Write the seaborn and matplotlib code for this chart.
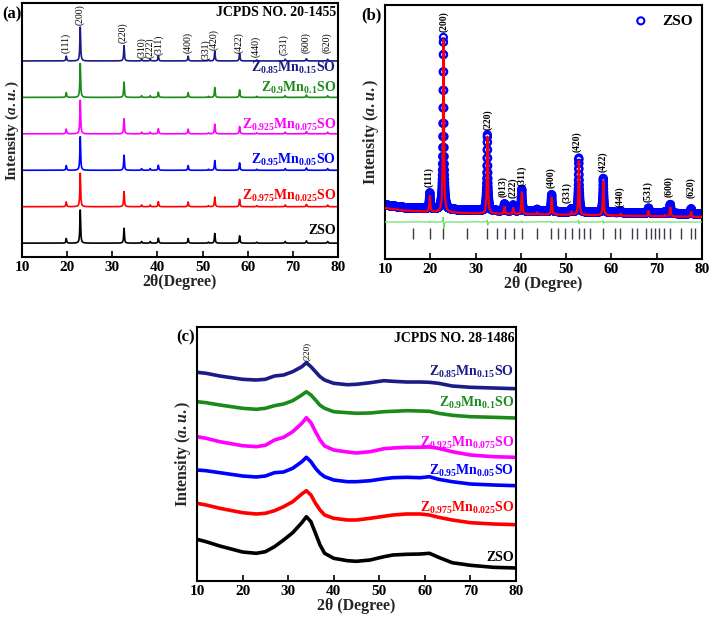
import numpy as np
import matplotlib
matplotlib.use("Agg")
import matplotlib.pyplot as plt
import seaborn as sns

# ---------------- data ----------------
# (a) XRD of the Mn-doped series, peak positions / relative intensities
a_names = [r"$\mathrm{Z_{0.85}Mn_{0.15}SO}$", r"$\mathrm{Z_{0.9}Mn_{0.1}SO}$",
           r"$\mathrm{Z_{0.925}Mn_{0.075}SO}$", r"$\mathrm{Z_{0.95}Mn_{0.05}SO}$",
           r"$\mathrm{Z_{0.975}Mn_{0.025}SO}$", "ZSO"]
a_colors = ["#1c1c86", "#1b8a1b", "#ff00ff", "#0000ff", "#ff0000", "#000000"]
a_offsets = [5, 4, 3, 2, 1, 0]
a_main_height = [0.93, 0.93, 0.92, 0.92, 0.92, 0.91]
a_peak_pos = [19.8, 22.9, 32.6, 36.5, 38.4, 40.2, 46.8, 51.3, 52.7, 58.2, 62.0, 68.3, 73.0, 77.7]
a_peak_rel = [0.14, 1.0, 0.45, 0.05, 0.05, 0.15, 0.14, 0.03, 0.29, 0.22, 0.03, 0.05, 0.07, 0.05]
a_hkl = ["(111)", "(200)", "(220)", "(310)", "(222)", "(311)", "(400)", "(331)", "(420)",
         "(422)", "(440)", "(531)", "(600)", "(620)"]
a_hkl_x = [19.75, 22.85, 32.4, 36.5, 38.4, 40.4, 46.7, 50.7, 52.5, 58.1, 61.8, 68.1, 72.9, 77.5]
a_hkl_y = [5.22, 5.99, 5.49, 5.08, 5.08, 5.16, 5.22, 5.03, 5.30, 5.22, 5.11, 5.16, 5.22, 5.22]
a_label_y = [4.60, 4.03, 3.02, 2.06, 1.08, 0.16]

# (b) Rietveld refinement of ZSO
b_peak_pos = [19.9, 22.9, 32.6, 36.4, 38.3, 40.2, 43.6, 46.8, 51.2, 52.8, 58.2, 62.0, 68.2, 71.8, 73.0, 77.6]
b_obs_h = [16, 172, 76, 7, 6, 22, 2, 17, 3, 54, 34, 2, 5, 1.5, 9, 5]
b_calc_h = [16, 173, 77, 7, 6, 22, 2, 17, 3, 54, 34, 2, 5, 1.5, 9, 5]
b_bg_x = [10, 14, 20, 30, 45, 60, 80]
b_bg_y = [51, 48.5, 47, 45.5, 44.5, 43.5, 42]
b_obs_lift = 3
b_bragg = [16.2, 19.85, 22.9, 28.2, 32.6, 34.7, 36.6, 38.5, 40.2, 43.5, 46.75, 48.3, 49.7,
           51.25, 52.8, 54.05, 55.35, 58.1, 60.8, 61.85, 64.6, 65.6, 67.65, 68.7, 69.55,
           70.45, 71.5, 72.9, 75.35, 77.55, 78.55]
b_hkl = ["(111)", "(200)", "(220)", "(013)", "(222)", "(311)", "(400)", "(331)", "(420)",
         "(422)", "(440)", "(531)", "(600)", "(620)"]
b_hkl_x = [19.7, 22.9, 32.7, 36.1, 38.2, 40.2, 46.6, 50.2, 52.3, 58.1, 61.9, 68.0, 72.7, 77.5]
b_hkl_y = [72, 227, 129, 62, 61, 73, 71, 56, 107, 87, 52, 57, 62, 61]

# (c) broad patterns
c_x = [10, 12, 15, 20, 23, 25, 27, 29, 31, 33, 34, 35, 36, 37, 38, 40, 43, 45, 48, 51, 53,
       56, 59, 61, 63, 66, 70, 75, 80]
c_navy = [208.7, 207.7, 205.0, 201.7, 201.0, 201.7, 205.0, 206.0, 209.3, 214.3, 218.3, 214.3,
          209.3, 204.3, 201.0, 197.7, 196.3, 196.7, 198.3, 200.3, 199.7, 199.0, 199.0, 198.7,
          197.7, 195.0, 193.7, 193.0, 192.3]
c_green = [179.3, 178.3, 176.0, 172.7, 171.7, 172.7, 175.3, 177.0, 180.3, 186.0, 189.3, 186.0,
           181.0, 175.7, 172.7, 169.3, 168.3, 167.7, 168.0, 169.3, 169.7, 170.3, 170.0, 169.7,
           167.7, 165.7, 164.3, 163.7, 163.0]
c_magenta = [144.3, 142.7, 139.3, 135.3, 134.3, 135.7, 141.0, 143.7, 149.3, 157.7, 163.3, 158.3,
             149.3, 141.0, 135.0, 131.0, 129.0, 128.0, 129.3, 132.3, 133.0, 133.7, 133.7, 134.0,
             132.7, 129.3, 126.0, 124.3, 123.7]
c_blue = [111.0, 110.3, 108.3, 105.0, 104.0, 105.0, 108.3, 109.0, 112.7, 119.3, 123.7, 119.3,
          112.7, 107.7, 104.3, 101.0, 99.3, 99.3, 100.3, 102.3, 103.3, 103.7, 103.3, 104.3,
          101.7, 99.3, 97.0, 96.0, 95.3]
c_red = [77.7, 76.0, 72.7, 68.3, 67.0, 67.7, 70.3, 74.3, 79.3, 87.0, 90.3, 86.0, 77.7, 71.0,
         66.0, 62.7, 61.0, 61.0, 62.7, 64.7, 66.0, 67.0, 67.0, 66.0, 63.7, 61.0, 58.3, 57.0, 56.3]
c_black = [41.7, 39.3, 35.0, 29.0, 27.7, 29.3, 34.3, 41.0, 48.3, 58.3, 64.3, 59.3, 47.7, 36.0,
           27.7, 22.7, 20.3, 19.7, 21.0, 24.3, 26.0, 26.7, 27.0, 27.7, 23.7, 18.3, 15.7, 13.7, 13.0]
c_label_y = [201, 170, 130, 102, 65, 17]

# ---------------- style ----------------
sns.set_theme(style="ticks")
plt.rcParams.update({
    "font.family": ["Liberation Serif", "DejaVu Serif"],
    "font.weight": "bold",
    "axes.labelweight": "bold",
    "mathtext.fontset": "custom",
    "mathtext.rm": "Liberation Serif:bold",
    "mathtext.bf": "Liberation Serif:bold",
    "mathtext.it": "Liberation Serif:italic:bold",
    "axes.linewidth": 1.5,
    "axes.edgecolor": "black",
    "text.color": "black",
    "xtick.color": "black",
})

fig = plt.figure(figsize=(7.09, 6.21), dpi=100)
axA = fig.add_axes([22 / 709, 1 - 257 / 621, 316 / 709, 254 / 621])
axB = fig.add_axes([385 / 709, 1 - 259 / 621, 317 / 709, 254 / 621])
axC = fig.add_axes([197 / 709, 1 - 581 / 621, 319 / 709, 254 / 621])


def lorentz_sum(x, pos, h, fwhm):
    y = np.zeros_like(x)
    for p, hh in zip(pos, h):
        y += hh / (1 + ((x - p) / (fwhm / 2)) ** 2)
    return y


def style_axis(ax, xlabel, ylabelsize=11.5, ylabelpad=3):
    ax.set_xlim(10, 80)
    ax.set_xticks(range(10, 81, 10))
    ax.set_yticks([])
    ax.tick_params(axis="x", direction="in", length=4, width=1.2, labelsize=11, pad=3,
                   top=False, bottom=True)
    ax.set_xlabel(xlabel, fontsize=11.5, labelpad=0)
    ax.set_ylabel(r"Intensity ($\mathit{a.u.}$)", fontsize=ylabelsize, labelpad=ylabelpad)
    for s in ax.spines.values():
        s.set_visible(True)
        s.set_linewidth(1.5)


# ---------------- (a) ----------------
xa = np.arange(10, 80.0001, 0.02)
for name, col, off, hm, ly in zip(a_names, a_colors, a_offsets, a_main_height, a_label_y):
    ya = off + lorentz_sum(xa, a_peak_pos, np.array(a_peak_rel) * hm, 0.2)
    sns.lineplot(x=xa, y=ya, ax=axA, color=col, lw=1.2, estimator=None, legend=False)
    axA.text(79.6, ly, name, color=col, fontsize=10, ha="right", va="bottom")
for t, x, y in zip(a_hkl, a_hkl_x, a_hkl_y):
    axA.text(x, y, t, rotation=90, fontsize=7, fontweight="normal", ha="center", va="bottom")
axA.text(79.6, 6.33, "JCPDS NO. 20-1455", fontsize=10, ha="right", va="center")
axA.set_ylim(-0.38, 6.59)
style_axis(axA, "2θ(Degree)", ylabelsize=11, ylabelpad=1)

# ---------------- (b) ----------------
xb_obs = np.arange(10.0, 80, 0.02)
xb_calc = np.arange(10, 80.0001, 0.005)
bg_obs = np.interp(xb_obs, b_bg_x, b_bg_y) + b_obs_lift
bg_calc = np.interp(xb_calc, b_bg_x, b_bg_y)
y_obs = bg_obs + lorentz_sum(xb_obs, b_peak_pos, b_obs_h, 0.24)
y_calc = bg_calc + lorentz_sum(xb_calc, np.array(b_peak_pos) + 0.006, b_calc_h, 0.24)
y_calc_at_obs = np.interp(xb_obs, xb_calc, y_calc)
y_diff = 37 - b_obs_lift + (y_obs - y_calc_at_obs)

sns.scatterplot(x=xb_obs, y=y_obs, ax=axB, marker="o", s=26, facecolors="none",
                edgecolor="#0000ff", linewidth=1.5, label="ZSO", zorder=2)
sns.lineplot(x=xb_calc, y=y_calc, ax=axB, color="#ff0000", lw=1.6, estimator=None,
             legend=False, zorder=3)
sns.lineplot(x=xb_obs, y=y_diff, ax=axB, color="#6ee06e", lw=0.9, estimator=None,
             legend=False, zorder=3)
axB.vlines(b_bragg, 20, 31, color="#3a3a48", lw=1.0)
for t, x, y in zip(b_hkl, b_hkl_x, b_hkl_y):
    axB.text(x, y, t, rotation=90, fontsize=7, ha="center", va="bottom")
axB.set_ylim(0, 254)
leg = axB.legend(loc="upper right", frameon=False, fontsize=11, handletextpad=0.4,
                 borderaxespad=0.2, markerscale=1.0)
style_axis(axB, "2θ (Degree)")

# ---------------- (c) ----------------
c_series = [c_navy, c_green, c_magenta, c_blue, c_red, c_black]
for name, col, ys, ly in zip(a_names, a_colors, c_series, c_label_y):
    sns.lineplot(x=c_x, y=ys, ax=axC, color=col, lw=2.6, estimator=None, legend=False)
    axC.text(79.6, ly, name, color=col, fontsize=10, ha="right", va="bottom")
axC.text(34, 220, "(220)", rotation=90, fontsize=6.5, fontweight="normal",
         ha="center", va="bottom")
axC.text(79.6, 243, "JCPDS NO. 28-1486", fontsize=10, ha="right", va="center")
axC.set_ylim(0, 254)
style_axis(axC, "2θ (Degree)")

# panel letters
fig.text(2 / 709, 1 - 14 / 621, "(a)", fontsize=12, va="center", ha="left")
fig.text(361 / 709, 1 - 15 / 621, "(b)", fontsize=12, va="center", ha="left")
fig.text(176 / 709, 1 - 337 / 621, "(c)", fontsize=12, va="center", ha="left")

fig.savefig("out.png", dpi=100)
